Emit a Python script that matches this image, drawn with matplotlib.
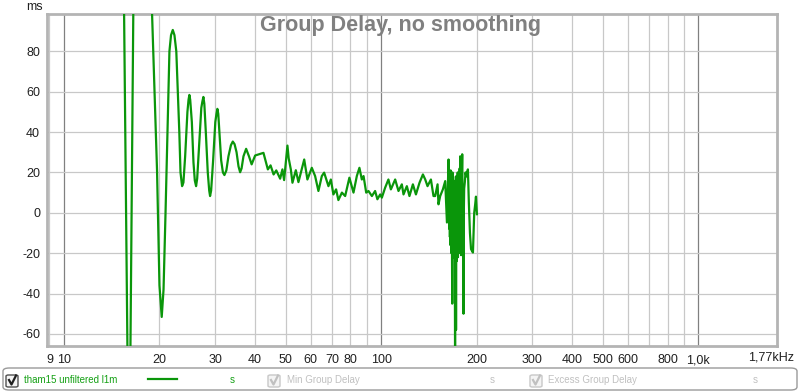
import matplotlib
matplotlib.use("Agg")
import matplotlib.pyplot as plt
from matplotlib.patches import FancyBboxPatch
from matplotlib.lines import Line2D
from matplotlib.ticker import FixedLocator, FixedFormatter, NullFormatter

# --- data ---
freq_hz = [
    15.0, 15.47, 15.85, 16.0, 16.2, 16.54, 17.6, 18.95, 19.65, 20.0,
    20.33, 20.6, 20.9, 21.5, 21.75, 22.03, 22.3, 22.6, 23.1, 23.3,
    23.57, 23.8, 24.1, 24.5, 24.7, 24.85, 25.0, 25.3, 25.6, 25.85,
    26.09, 26.3, 26.7, 27.1, 27.3, 27.51, 27.7, 28.0, 28.4, 28.7,
    28.88, 29.1, 29.5, 30.0, 30.25, 30.45, 30.65, 30.9, 31.3, 31.7,
    32.05, 32.5, 33.0, 33.6, 34.06, 34.5, 35.0, 35.5, 35.92, 36.3,
    36.8, 37.52, 38.3, 39.05, 40.06, 41.03, 42.55, 43.93, 44.8, 45.8,
    46.7, 48.03, 48.83, 49.43, 50.2, 50.64, 51.1, 51.9, 52.52, 53.82,
    54.85, 57.2, 58.54, 60.44, 61.91, 63.41, 65.0, 66.1, 68.2, 69.4,
    70.7, 72.1, 73.3, 75.2, 77.0, 79.4, 81.8, 83.8, 85.4, 86.9,
    88.0, 89.7, 91.2, 93.5, 95.7, 97.3, 99.3, 100.5, 102.9, 105.4,
    107.3, 110.7, 113.4, 116.2, 117.6, 120.5, 122.8, 125.9, 128.7, 132.1,
    135.4, 137.7, 140.0, 143.5, 146.2, 148.0, 150.6, 151.6, 153.5, 156.5,
    159.2, 161.2, 163.1, 163.5, 163.8, 164.1, 164.4, 164.7, 165.0, 165.3,
    165.6, 165.9, 166.2, 166.5, 166.8, 167.1, 167.5, 167.8, 168.1, 168.4,
    168.7, 169.0, 169.3, 169.6, 169.9, 170.2, 170.6, 171.0, 171.4, 171.7,
    172.0, 172.2, 172.5, 172.8, 173.1, 173.4, 173.7, 174.0, 174.3, 174.6,
    174.9, 175.2, 175.5, 175.8, 176.1, 176.4, 176.8, 177.2, 177.5, 177.9,
    178.3, 178.7, 179.1, 179.5, 179.8, 180.1, 180.6, 181.0, 181.4, 181.8,
    182.2, 182.7, 183.5, 184.5, 185.5, 187.7, 189.0, 190.5, 192.0, 194.7,
    196.5, 197.9, 199.0, 200.4,
]
delay_ms = [
    180, 99, -67, -95, -67, 99, 170, 99, 21, -36,
    -51.6, -38, 0, 80, 88, 90.6, 88, 80, 40, 20,
    13.2, 15, 28, 50, 56, 58.4, 56, 45, 25, 16,
    13.2, 17, 35, 52, 55, 57.4, 54, 40, 20, 11,
    8.3, 11, 25, 45, 49, 51.5, 49, 40, 26, 20,
    18.7, 21, 28, 33.5, 35.3, 34, 30, 23, 20.1, 22,
    28, 31.7, 28, 24, 28.4, 28.9, 29.7, 21.5, 23.5, 19,
    21, 16.9, 21.5, 16.2, 27, 33.3, 27, 21.5, 14.9, 21.1,
    15.2, 26.4, 16.5, 22.3, 18.2, 10.8, 18.2, 19.9, 13.2, 16.5,
    9.1, 11.6, 6.3, 10, 8.3, 17.4, 10, 18.2, 22.3, 16.5,
    18.2, 10, 10.8, 8.3, 10.8, 6.7, 9.1, 7.5, 12.4, 16.5,
    11.6, 16.5, 10.8, 14.1, 9.1, 13.2, 8.3, 14.1, 9.1, 14.9,
    19, 16.5, 13.2, 16.5, 8.3, 8.3, 14.1, 4.2, 8.3, 11.6,
    15.7, -4.8, 26.4, -3, 16, -8, 19, -12, 14, -16,
    21, -6, 12, -20, 17, -10, -45, 20, -14, 11,
    -22, 16, -8, 13, -20, 8, -12, -68, 10, -30,
    18, -58, 14, -24, 12, -18, 17, -10, 20, -22,
    10, -16, 14, -20, 19, -8, 22, -14, 28, -18,
    15, -21, 18, -12, 22, 29, -5, 10, -20, -50,
    0, 12, 15, 20, 18, 21.5, 5, -10, -18, -19.7,
    0, 4.2, 8, -0.7,
]

x_ticks = [9, 10, 20, 30, 40, 50, 60, 70, 80, 100, 200, 300, 400, 500, 600, 800, 1000]
x_tick_labels = ["9", "10", "20", "30", "40", "50", "60", "70", "80", "100",
                 "200", "300", "400", "500", "600", "800", "1,0k"]
x_grid = [9, 20, 30, 40, 50, 60, 70, 80, 90, 200, 300, 400, 500, 600, 700, 800, 900]
x_decades = [10, 100, 1000]
y_ticks = [-60, -40, -20, 0, 20, 40, 60, 80]

plt.rcParams['font.family'] = ['Liberation Sans', 'DejaVu Sans']

W, H = 800, 392
fig = plt.figure(figsize=(W / 100, H / 100), dpi=100)
fig.patch.set_facecolor("white")

def fx(px):
    return px / W

def fy(py):
    return 1 - py / H

ax = fig.add_axes([fx(47), fy(346), fx(777) - fx(47), fy(14) - fy(346)])
ax.set_xscale("log")
ax.set_xlim(8.84, 1770)
ax.set_ylim(-66, 98.5)

for g in x_grid:
    ax.axvline(g, color="#c8c8c8", lw=0.9, zorder=0)
for g in x_decades:
    ax.axvline(g, color="#808080", lw=0.9, zorder=0)
for g in y_ticks:
    ax.axhline(g, color="#c8c8c8", lw=0.9, zorder=0)

ax.plot(freq_hz, delay_ms, color="#0a960a", lw=1.6, zorder=3, solid_joinstyle="round")

ax.xaxis.set_major_locator(FixedLocator(x_ticks))
ax.xaxis.set_major_formatter(FixedFormatter(x_tick_labels))
ax.xaxis.set_minor_formatter(NullFormatter())
ax.set_yticks(y_ticks)
ax.set_yticklabels([str(v) for v in y_ticks])
ax.tick_params(axis="both", which="both", length=0, labelsize=9, colors="#202020")
ax.tick_params(axis="x", pad=6)
ax.tick_params(axis="y", pad=5)

for s in ax.spines.values():
    s.set_color("#b4b4b4")
    s.set_linewidth(2)

ax.annotate("1,77kHz", xy=(1, 0), xycoords="axes fraction", xytext=(-6, -12),
            textcoords="offset pixels", ha="center", va="center", fontsize=9, color="#202020")
fig.text(fx(43), fy(7), "ms", ha="right", va="center", fontsize=9, color="#202020")
fig.text(fx(400), fy(25), "Group Delay, no smoothing", ha="center", va="center",
         fontsize=15.5, fontweight="bold", color="#808080")

# --- legend strip at the bottom ---
fig.patches.append(FancyBboxPatch((fx(3), fy(390)), fx(797) - fx(3), fy(368) - fy(390),
                                  boxstyle="round,pad=0,rounding_size=0.008",
                                  transform=fig.transFigure, facecolor="white",
                                  edgecolor="#9a9a9a", lw=1))

def checkbox(x0, dark):
    edge = "#505050" if dark else "#c8c8c8"
    tick = "#202020" if dark else "#c0c0c0"
    fig.patches.append(FancyBboxPatch((fx(x0), fy(387)), fx(12), fy(375) - fy(387),
                                      boxstyle="round,pad=0,rounding_size=0.003",
                                      transform=fig.transFigure, facecolor="#f4f4f4",
                                      edgecolor=edge, lw=1))
    fig.lines.append(Line2D([fx(x0 + 3), fx(x0 + 5.5), fx(x0 + 10)],
                            [fy(380), fy(384.5), fy(375.5)],
                            transform=fig.transFigure, color=tick, lw=1.6))

ly = fy(380)
checkbox(6, True)
fig.text(fx(24), ly, "tham15 unfiltered l1m", fontsize=7, color="#14a014", va="center")
fig.lines.append(Line2D([fx(148), fx(177)], [fy(379), fy(379)], transform=fig.transFigure,
                        color="#0a960a", lw=1.6))
fig.text(fx(232), ly, "s", fontsize=7, color="#14a014", va="center", ha="center")
checkbox(268, False)
fig.text(fx(287), ly, "Min Group Delay", fontsize=7, color="#c0c0c0", va="center")
fig.text(fx(492), ly, "s", fontsize=7, color="#c0c0c0", va="center", ha="center")
checkbox(530, False)
fig.text(fx(548), ly, "Excess Group Delay", fontsize=7, color="#c0c0c0", va="center")
fig.text(fx(755), ly, "s", fontsize=7, color="#c0c0c0", va="center", ha="center")

fig.savefig("out.png", dpi=100)
